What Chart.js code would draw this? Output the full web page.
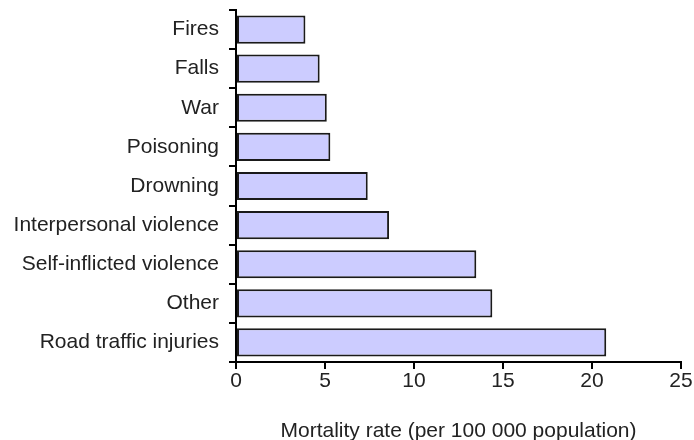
<!DOCTYPE html>
<html>
<head>
<meta charset="utf-8">
<script src="https://cdn.jsdelivr.net/npm/chart.js@4/dist/chart.umd.min.js"></script>
<style>
  html, body { margin: 0; padding: 0; background: #fff; }
  #wrap { width: 694px; height: 440px; position: relative; }
</style>
</head>
<body>
<div id="wrap"><canvas id="myChart" width="694" height="440"></canvas></div>
<script>
// chart values
const causes = ['Fires', 'Falls', 'War', 'Poisoning', 'Drowning', 'Interpersonal violence',
    'Self-inflicted violence', 'Other', 'Road traffic injuries'];
const mortalityRates = [3.9, 4.7, 5.1, 5.3, 7.4, 8.6, 13.5, 14.4, 20.8];
const xTicks = [0, 5, 10, 15, 20, 25];
const xTitle = 'Mortality rate (per 100 000 population)';

const font = { family: '"Liberation Sans", Arial, sans-serif', size: 21 };

var ctx = document.getElementById('myChart').getContext('2d');
var myChart = new Chart(ctx, {
    type: 'bar',
    data: {
        labels: causes,
        datasets: [{
            data: mortalityRates,
            backgroundColor: '#ccccff',
            borderColor: '#1a1a1a',
            borderWidth: 2,
            borderSkipped: false,
            categoryPercentage: 0.72,
            barPercentage: 1.0
        }]
    },
    options: {
        indexAxis: 'y',
        responsive: false,
        animation: false,
        events: [],
        layout: { padding: { top: 10, right: 13, bottom: 0, left: 0 } },
        plugins: {
            legend: { display: false },
            tooltip: { enabled: false }
        },
        scales: {
            x: {
                min: 0,
                max: 25,
                afterBuildTicks: (axis) => {
                    axis.ticks = xTicks.map(v => ({ value: v }));
                },
                afterFit: (axis) => { axis.height = 78; },
                grid: { drawOnChartArea: false, drawTicks: true, tickLength: 7, color: '#000', lineWidth: 2 },
                border: { color: '#000', width: 2 },
                ticks: { color: '#222', font: font, padding: 0, maxRotation: 0 },
                title: {
                    display: true,
                    text: xTitle,
                    color: '#222',
                    font: font,
                    padding: { top: 12, bottom: -4 }
                }
            },
            y: {
                afterFit: (axis) => {
                    axis.width = 236;
                    axis.paddingTop = 0;
                    axis.paddingBottom = 0;
                },
                grid: { drawOnChartArea: false, drawTicks: true, tickLength: 7, color: '#000', lineWidth: 2, offset: true },
                border: { color: '#000', width: 2 },
                ticks: { color: '#222', font: font, padding: 10, autoSkip: false }
            }
        }
    }
});
</script>
</body>
</html>
